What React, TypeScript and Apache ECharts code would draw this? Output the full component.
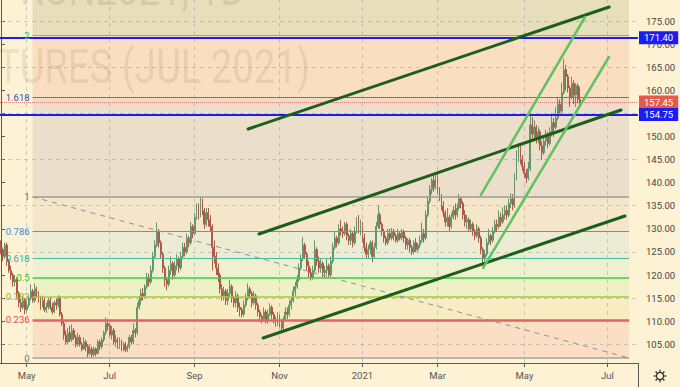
import React, { useEffect, useRef } from "react";
import * as echarts from "echarts";

// ---------- data ----------
const FIRST_DAY = "2020-04-14";
const LAST_DAY = "2021-07-23";
const HOLIDAYS = ["2020-05-25", "2020-07-03", "2020-09-07", "2020-11-26", "2020-12-25", "2021-01-01", "2021-01-18", "2021-02-15", "2021-04-02", "2021-05-31", "2021-07-05"];

// [open, close, low, high]
const CANDLES: number[][] = [
  [126.0, 125.5, 124.5, 127.5], [125.5, 124.0, 123.0, 126.0], [124.0, 126.5, 123.5, 127.0], [126.5, 123.0, 122.0, 127.0], [123.0, 121.0, 120.5, 123.5],
  [121.0, 120.0, 119.0, 122.0], [120.0, 118.5, 117.5, 120.5], [118.5, 119.0, 117.5, 120.0], [119.0, 116.0, 115.0, 119.5], [116.0, 114.0, 113.0, 116.5],
  [114.0, 113.0, 112.0, 115.0], [113.0, 114.5, 112.5, 115.5], [114.5, 112.5, 111.5, 115.0], [112.5, 113.5, 111.8, 114.5], [113.5, 115.0, 113.0, 115.5],
  [115.0, 116.5, 114.5, 118.0], [116.5, 114.5, 114.0, 117.0], [114.5, 117.0, 114.0, 118.2], [117.0, 116.0, 115.0, 117.5], [116.0, 115.0, 114.0, 116.5],
  [115.0, 113.5, 112.5, 115.5], [113.5, 114.5, 113.0, 115.5], [114.5, 112.5, 112.0, 115.0], [112.5, 113.0, 111.8, 114.0], [113.0, 114.5, 112.5, 115.0],
  [114.5, 113.0, 112.5, 115.2], [113.0, 112.0, 111.5, 114.0], [112.0, 114.0, 111.8, 114.5], [114.0, 113.5, 112.5, 114.8], [113.5, 115.0, 113.0, 115.6],
  [115.0, 111.5, 111.0, 115.5], [111.5, 109.5, 109.0, 112.0], [109.5, 107.0, 106.0, 110.0], [107.0, 105.5, 105.0, 108.0], [105.5, 107.5, 105.0, 108.5],
  [107.5, 106.0, 105.5, 109.0], [106.0, 108.0, 105.5, 109.3], [108.0, 106.5, 106.0, 108.5], [106.5, 105.0, 104.3, 107.0], [105.0, 106.5, 104.5, 107.5],
  [106.5, 105.0, 104.5, 107.0], [105.0, 104.0, 103.5, 105.5], [104.0, 105.5, 103.8, 106.5], [105.5, 104.5, 103.5, 106.0], [104.5, 103.0, 102.2, 105.0],
  [103.0, 104.0, 102.5, 105.0], [104.0, 102.8, 102.1, 104.5], [102.8, 104.0, 102.3, 104.5], [104.0, 103.0, 102.4, 104.3], [103.0, 105.5, 102.8, 106.0],
  [105.5, 104.5, 103.8, 106.0], [104.5, 106.0, 104.0, 106.5], [106.0, 107.5, 105.5, 108.0], [107.5, 109.5, 107.0, 110.8], [109.5, 109.0, 108.0, 110.5],
  [109.0, 107.0, 106.5, 109.5], [107.0, 108.0, 106.0, 109.0], [108.0, 105.5, 105.0, 108.5], [105.5, 106.0, 104.5, 107.0], [106.0, 104.5, 104.0, 106.5],
  [104.5, 105.5, 104.0, 106.5], [105.5, 104.0, 103.5, 106.0], [104.0, 105.0, 103.5, 105.5], [105.0, 103.8, 103.3, 105.5], [103.8, 104.5, 103.3, 105.0],
  [104.5, 106.5, 104.0, 107.0], [106.5, 105.5, 105.0, 107.0], [105.5, 108.0, 105.0, 109.5], [108.0, 107.5, 106.5, 108.5], [107.5, 113.0, 107.0, 114.0],
  [113.0, 114.5, 112.5, 115.5], [114.5, 116.0, 113.5, 117.0], [116.0, 115.5, 114.5, 117.2], [115.5, 117.5, 115.0, 118.0], [117.5, 119.5, 117.0, 120.5],
  [119.5, 118.5, 117.5, 120.3], [118.5, 121.0, 118.0, 122.0], [121.0, 124.0, 120.5, 125.0], [124.0, 126.5, 123.5, 127.5], [126.5, 129.5, 126.0, 131.4],
  [129.5, 127.0, 126.0, 130.0], [127.0, 124.5, 123.5, 127.5], [124.5, 121.5, 120.5, 125.0], [121.5, 119.0, 117.5, 122.0], [119.0, 118.0, 116.7, 119.5],
  [118.0, 121.0, 117.5, 122.0], [121.0, 122.5, 120.0, 124.0], [122.5, 120.0, 119.0, 123.0], [120.0, 122.0, 119.5, 123.0], [122.0, 123.5, 121.0, 124.5],
  [123.5, 121.5, 120.5, 124.0], [121.5, 124.0, 121.0, 125.0], [124.0, 126.0, 123.5, 127.0], [126.0, 125.0, 124.0, 127.0], [125.0, 128.0, 124.5, 129.0],
  [128.0, 127.0, 126.0, 128.5], [127.0, 130.5, 126.5, 131.5], [130.5, 129.0, 128.0, 131.0], [129.0, 132.5, 128.5, 133.5], [132.5, 134.5, 132.0, 135.5],
  [134.5, 133.0, 132.0, 135.5], [133.0, 135.5, 132.5, 136.9], [135.5, 134.0, 133.0, 136.5], [134.0, 131.0, 130.0, 134.5], [131.0, 133.5, 130.5, 134.5],
  [133.5, 132.0, 130.5, 134.5], [132.0, 130.5, 129.5, 133.0], [130.5, 126.0, 121.0, 131.0], [126.0, 124.0, 122.5, 127.5], [124.0, 121.5, 120.0, 125.0],
  [121.5, 120.0, 118.5, 122.5], [120.0, 117.0, 116.0, 120.5], [117.0, 115.5, 114.5, 118.0], [115.5, 116.5, 114.5, 117.5], [116.5, 114.5, 113.5, 117.0],
  [114.5, 116.0, 113.5, 117.0], [116.0, 117.5, 115.0, 119.0], [117.5, 115.0, 114.0, 118.0], [115.0, 114.0, 113.0, 115.5], [114.0, 115.5, 113.0, 116.5],
  [115.5, 113.0, 112.0, 116.0], [113.0, 112.5, 111.0, 114.0], [112.5, 111.5, 110.8, 113.0], [111.5, 113.5, 111.0, 114.5], [113.5, 115.0, 113.0, 116.0],
  [115.0, 117.0, 114.5, 118.2], [117.0, 116.0, 115.0, 117.5], [116.0, 114.0, 113.0, 116.5], [114.0, 115.5, 113.5, 116.5], [115.5, 113.5, 112.5, 116.0],
  [113.5, 112.0, 111.0, 114.0], [112.0, 111.0, 110.0, 112.5], [111.0, 110.5, 109.5, 111.5], [110.5, 112.0, 110.0, 113.0], [112.0, 110.0, 109.5, 112.5],
  [110.0, 111.5, 109.5, 112.5], [111.5, 113.0, 111.0, 113.9], [113.0, 111.5, 110.5, 113.5], [111.5, 110.5, 109.5, 112.0], [110.5, 109.5, 108.8, 111.0],
  [109.5, 111.0, 109.0, 112.0], [111.0, 109.5, 108.7, 111.5], [109.5, 108.5, 107.8, 110.0], [108.5, 110.5, 108.0, 111.0], [110.5, 112.0, 110.0, 113.0],
  [112.0, 111.5, 110.5, 113.0], [111.5, 113.5, 111.0, 114.5], [113.5, 114.5, 112.5, 115.2], [114.5, 116.5, 114.0, 117.5], [116.5, 117.5, 115.5, 118.5],
  [117.5, 119.0, 117.0, 120.0], [119.0, 121.5, 118.5, 122.5], [121.5, 123.5, 121.0, 124.5], [123.5, 126.5, 123.0, 128.2], [126.5, 124.5, 123.5, 127.0],
  [124.5, 122.0, 121.0, 125.0], [122.0, 120.5, 119.5, 123.0], [120.5, 119.5, 118.8, 121.5], [119.5, 121.0, 119.0, 122.0], [121.0, 125.5, 120.5, 127.5],
  [125.5, 123.0, 122.0, 126.0], [123.0, 121.5, 120.5, 124.0], [121.5, 122.5, 120.5, 123.5], [122.5, 120.5, 119.5, 123.0], [120.5, 121.0, 119.5, 122.0],
  [121.0, 122.0, 120.0, 123.5], [122.0, 120.0, 119.5, 122.5], [120.0, 123.0, 119.5, 124.0], [123.0, 126.0, 122.5, 127.0], [126.0, 128.0, 125.5, 129.5],
  [128.0, 127.0, 126.0, 128.5], [127.0, 130.0, 126.5, 131.0], [130.0, 129.5, 128.5, 131.9], [129.5, 129.0, 128.0, 130.5], [129.0, 131.0, 128.5, 131.5],
  [131.0, 128.5, 127.5, 131.5], [128.5, 127.5, 126.5, 129.0], [127.5, 129.0, 126.5, 130.0], [129.0, 127.0, 126.0, 129.5], [127.0, 129.5, 126.5, 130.5],
  [129.5, 131.5, 129.0, 132.5], [131.5, 130.0, 129.0, 133.0], [130.0, 131.0, 128.6, 132.0], [131.0, 128.0, 127.0, 131.5], [128.0, 126.0, 125.0, 129.0],
  [126.0, 124.5, 123.6, 127.0], [124.5, 125.5, 123.5, 126.5], [125.5, 127.0, 124.5, 127.5], [127.0, 124.0, 122.8, 127.5], [124.0, 126.0, 123.5, 127.0],
  [126.0, 130.5, 125.5, 131.5], [130.5, 133.0, 130.0, 135.1], [133.0, 131.0, 130.0, 133.5], [131.0, 129.5, 128.5, 131.5], [129.5, 128.0, 127.0, 130.0],
  [128.0, 127.0, 126.4, 128.5], [127.0, 129.0, 126.5, 130.0], [129.0, 128.0, 127.5, 130.0], [128.0, 129.5, 127.5, 130.2], [129.5, 128.5, 127.5, 130.0],
  [128.5, 127.5, 127.0, 129.0], [127.5, 129.0, 127.0, 130.0], [129.0, 128.0, 127.5, 129.5], [128.0, 129.5, 127.5, 130.0], [129.5, 128.0, 127.0, 129.8],
  [128.0, 126.5, 125.5, 128.5], [126.5, 127.5, 125.5, 128.0], [127.5, 126.0, 125.0, 128.0], [126.0, 125.0, 124.3, 126.5], [125.0, 127.0, 124.5, 127.5],
  [127.0, 125.5, 125.0, 128.0], [125.5, 126.5, 125.0, 127.0], [126.5, 127.5, 125.8, 128.5], [127.5, 129.0, 127.0, 131.4], [129.0, 128.0, 127.0, 130.0],
  [128.0, 133.0, 127.5, 134.0], [133.0, 136.0, 132.5, 137.0], [136.0, 138.5, 135.5, 139.5], [138.5, 140.5, 137.5, 141.0], [140.5, 139.0, 138.0, 141.5],
  [139.0, 141.5, 138.5, 142.3], [141.5, 138.5, 137.5, 142.0], [138.5, 137.0, 136.0, 139.0], [137.0, 135.0, 134.0, 137.5], [135.0, 133.5, 132.5, 136.0],
  [133.5, 131.5, 130.5, 134.0], [131.5, 132.5, 130.5, 134.5], [132.5, 130.5, 129.3, 133.0], [130.5, 132.5, 130.0, 133.5], [132.5, 134.0, 132.0, 135.0],
  [134.0, 133.0, 132.0, 135.5], [133.0, 134.5, 132.5, 135.5], [134.5, 136.5, 134.0, 137.6], [136.5, 135.5, 134.5, 137.0], [135.5, 133.0, 132.0, 136.0],
  [133.0, 131.5, 130.5, 134.0], [131.5, 132.0, 130.0, 133.0], [132.0, 130.0, 129.5, 132.5], [130.0, 131.0, 129.5, 132.0], [131.0, 129.5, 128.5, 131.5],
  [129.5, 128.5, 127.5, 130.0], [128.5, 130.0, 128.0, 131.0], [130.0, 128.0, 127.0, 130.5], [128.0, 125.5, 124.5, 128.5], [125.5, 123.5, 122.6, 126.0],
  [123.5, 124.5, 123.0, 125.5], [124.5, 127.0, 124.0, 128.0], [127.0, 128.5, 126.5, 130.0], [128.5, 127.5, 126.5, 129.0], [127.5, 129.5, 127.0, 130.4],
  [129.5, 131.0, 129.0, 132.0], [131.0, 130.5, 129.5, 132.0], [130.5, 132.5, 130.0, 134.0], [132.5, 131.5, 130.5, 133.5], [131.5, 133.0, 131.0, 134.7],
  [133.0, 134.0, 132.0, 135.0], [134.0, 133.0, 132.0, 135.0], [133.0, 135.5, 132.5, 136.5], [135.5, 136.5, 134.5, 137.7], [136.5, 135.0, 134.0, 137.5],
  [135.0, 141.0, 134.5, 142.0], [141.0, 145.5, 140.5, 147.0], [145.5, 147.0, 144.5, 148.6], [147.0, 145.0, 144.0, 148.0], [145.0, 143.5, 142.5, 146.0],
  [143.5, 142.0, 141.0, 144.5], [142.0, 141.0, 139.9, 143.0], [141.0, 143.0, 140.5, 144.5], [143.0, 152.5, 142.5, 155.0], [152.5, 150.5, 149.5, 154.2],
  [150.5, 152.0, 149.5, 153.5], [152.0, 149.5, 148.5, 152.5], [149.5, 151.0, 148.5, 152.0], [151.0, 148.0, 147.0, 151.5], [148.0, 146.5, 144.9, 149.0],
  [146.5, 149.0, 146.0, 150.0], [149.0, 150.5, 148.0, 151.4], [150.5, 148.5, 147.5, 151.0], [148.5, 151.0, 148.0, 152.0], [151.0, 153.0, 150.0, 155.0],
  [153.0, 152.0, 149.9, 154.0], [152.0, 154.0, 151.5, 156.4], [154.0, 157.0, 153.5, 158.5], [157.0, 155.5, 155.0, 158.0], [155.5, 159.5, 155.0, 161.6],
  [159.5, 164.5, 159.0, 166.8], [164.5, 163.0, 160.0, 165.5], [163.0, 160.5, 159.5, 163.5], [160.5, 158.5, 156.4, 161.0], [158.5, 161.5, 158.0, 162.9],
  [161.5, 159.0, 157.0, 162.2], [159.0, 161.0, 156.4, 161.5], [161.0, 158.0, 157.2, 161.5], [158.0, 157.45, 156.8, 160.7],
];

const TICK_MONTHS = ["2020-05", "2020-07", "2020-09", "2020-11", "2021-01", "2021-03", "2021-05", "2021-07"];
const TICK_LABELS = ["May", "Jul", "Sep", "Nov", "2021", "Mar", "May", "Jul"];

const PRICE_TICKS = [105, 110, 115, 120, 125, 130, 135, 140, 145, 150, 155, 160, 165, 170, 175];
const GRID_PRICES = [105, 115, 125, 135, 145, 155, 165, 175];
const Y_MIN = 100.95;
const Y_MAX = 179.55;

// Fibonacci retracement (anchored at bar 16 and bar 318)
const FIB_LABELS = ["0", "0.236", "0.382", "0.5", "0.618", "0.786", "1", "1.618", "2"];
const FIB_LEVELS = [102.03, 110.27, 115.36, 119.48, 123.6, 129.46, 136.93, 158.5, 171.83];
const FIB_START = 16;
const FIB_END = 318;

// horizontal levels
const H_LEVELS = [171.4, 154.75];
const LAST_PRICE = 157.45;

// trend lines [[bar, price], [bar, price]]
const DARK_TRENDS = [
  [[125.1, 151.62], [307.9, 178.03]],
  [[130.6, 128.89], [313.9, 155.73]],
  [[132.7, 106.37], [315.9, 132.78]],
];
const LIGHT_TRENDS = [
  [[243.0, 137.33], [295.7, 175.87]],
  [[244.1, 121.53], [307.8, 167.21]],
];

// ---------- styles ----------
const FIB_LINE_COLORS = ["#a3a3a3", "#e2665c", "#a9c93c", "#3ccf3c", "#4cbd9c", "#4f9ad8", "#a09a94", "#6b6bd0", "#5cc497"];
const FIB_TEXT_COLORS = ["#777777", "#e0504a", "#94b820", "#2ec42e", "#2fae8c", "#3d8fd1", "#666666", "#4a4ab8", "#3cb58c"];
const FIB_LINE_WIDTHS = [1.5, 2.5, 1.5, 1.5, 1.2, 1.2, 1.5, 1.2, 1.2];
const ZONE_COLORS = ["#fbdfc4", "#f8ecc2", "#eef0c6", "#eef0d0", "#ecebd3", "#f5e6c9", "#ebdfcc", "#fadec0", "#e7dfbb"];

function tradingDays(): string[] {
  const out: string[] = [];
  const d = new Date(FIRST_DAY + "T00:00:00Z");
  const end = new Date(LAST_DAY + "T00:00:00Z");
  while (d.getTime() <= end.getTime()) {
    const wd = d.getUTCDay();
    const s = d.toISOString().slice(0, 10);
    if (wd !== 0 && wd !== 6 && HOLIDAYS.indexOf(s) < 0) out.push(s);
    d.setUTCDate(d.getUTCDate() + 1);
  }
  return out;
}

export default function App() {
  const ref = useRef<HTMLDivElement>(null);

  useEffect(() => {
    if (!ref.current) return;
    const chart = echarts.init(ref.current, undefined, { renderer: "svg" });
    const dates = tradingDays();
    const N = dates.length;

    const tickMap = new Map<number, string>();
    TICK_MONTHS.forEach((m, k) => {
      const idx = dates.findIndex((d) => d.startsWith(m));
      if (idx >= 0) tickMap.set(idx, TICK_LABELS[k]);
    });
    const tickIdx = Array.from(tickMap.keys());

    const zoneBounds = [...FIB_LEVELS, Y_MAX];
    const zones = ZONE_COLORS.map((c, i) => [
      { xAxis: FIB_START, yAxis: zoneBounds[i], itemStyle: { color: c, opacity: 1 } },
      { xAxis: FIB_END, yAxis: zoneBounds[i + 1] },
    ]);

    const fibLines = FIB_LEVELS.map((v, i) => [
      {
        coord: [FIB_START, v],
        lineStyle: { color: FIB_LINE_COLORS[i], width: FIB_LINE_WIDTHS[i], type: "solid" },
        label: {
          show: true,
          position: "start",
          formatter: FIB_LABELS[i],
          color: FIB_TEXT_COLORS[i],
          fontSize: 9.5,
          distance: 3,
          fontFamily: "Roboto, sans-serif",
        },
      },
      { coord: [FIB_END, v] },
    ]);

    const levelLine = (v: number, color: string, bg: string, type: string, width: number) => [
      {
        coord: [-0.5, v],
        lineStyle: { color, width, type },
        label: {
          show: true,
          position: "end",
          formatter: v.toFixed(2),
          color: "#ffffff",
          backgroundColor: bg,
          padding: [2, 5, 1, 5],
          fontSize: 9.5,
          distance: 1,
          fontFamily: "Roboto, sans-serif",
        },
      },
      { coord: [N - 0.5, v] },
    ];

    const trendSeries = (pts: number[][], color: string, width: number) => ({
      type: "line",
      xAxisIndex: 1,
      data: pts,
      symbol: "none",
      silent: true,
      z: 7,
      lineStyle: { color, width, cap: "round" },
    });

    const option: any = {
      animation: false,
      backgroundColor: "#fdf2d4",
      textStyle: { fontFamily: "Roboto, sans-serif" },
      grid: { left: 0, right: 42, top: 0, bottom: 24, containLabel: false, outerBoundsMode: "none" },
      xAxis: [
        {
          type: "category",
          data: dates,
          boundaryGap: true,
          axisLine: { show: true, lineStyle: { color: "#5a5a5a", width: 1 } },
          axisTick: {
            show: true,
            alignWithLabel: true,
            interval: (i: number) => tickMap.has(i),
            length: 4,
            lineStyle: { color: "#5a5a5a" },
          },
          axisLabel: {
            show: true,
            interval: (i: number) => tickMap.has(i),
            formatter: (_v: string, i: number) => tickMap.get(i) || "",
            color: "#555555",
            fontSize: 9.5,
            margin: 7,
            hideOverlap: false,
          },
          splitLine: { show: false },
        },
        { type: "value", min: -0.5, max: N - 0.5, show: false },
      ],
      yAxis: {
        type: "value",
        position: "right",
        min: Y_MIN,
        max: Y_MAX,
        axisLine: { show: true, lineStyle: { color: "#5a5a5a", width: 1 } },
        axisTick: { show: true, length: 4, customValues: PRICE_TICKS, lineStyle: { color: "#5a5a5a" } },
        axisLabel: {
          show: true,
          customValues: PRICE_TICKS,
          formatter: (v: number) => v.toFixed(2),
          color: "#444444",
          fontSize: 9.5,
          margin: 8,
        },
        splitLine: { show: false },
      },
      graphic: [
        {
          type: "text",
          x: 245,
          y: -12,
          z: 3,
          silent: true,
          scaleX: 0.78,
          style: {
            text: "KCN2021, 1D",
            fontSize: 49,
            fontFamily: "Roboto, sans-serif",
            fill: "rgba(110,100,60,0.16)",
            align: "right",
            verticalAlign: "middle",
          },
        },
        {
          type: "text",
          x: 310,
          y: 66,
          z: 3,
          silent: true,
          scaleX: 0.78,
          style: {
            text: "TURES (JUL 2021)",
            fontSize: 49,
            fontFamily: "Roboto, sans-serif",
            fill: "rgba(110,100,60,0.12)",
            align: "right",
            verticalAlign: "middle",
          },
        },
        {
          type: "line",
          silent: true,
          shape: { x1: 638.5, y1: 363, x2: 638.5, y2: 387 },
          style: { stroke: "#5a5a5a", lineWidth: 1 },
        },
        {
          type: "group",
          x: 660,
          y: 376,
          silent: true,
          children: [
            { type: "circle", shape: { cx: 0, cy: 0, r: 3.6 }, style: { fill: "none", stroke: "#333", lineWidth: 1.3 } },
            ...[0, 45, 90, 135, 180, 225, 270, 315].map((a) => {
              const r = (a * Math.PI) / 180;
              return {
                type: "line",
                shape: { x1: Math.cos(r) * 4.2, y1: Math.sin(r) * 4.2, x2: Math.cos(r) * 6.2, y2: Math.sin(r) * 6.2 },
                style: { stroke: "#333", lineWidth: 1.4 },
              };
            }),
          ],
        },
      ],
      series: [
        {
          type: "line",
          xAxisIndex: 1,
          data: [],
          z: 1,
          silent: true,
          markArea: { silent: true, data: zones },
        },
        {
          type: "line",
          xAxisIndex: 1,
          data: [],
          z: 2,
          silent: true,
          markLine: {
            silent: true,
            symbol: ["none", "none"],
            label: { show: false },
            lineStyle: { color: "rgba(150,150,150,0.45)", type: [4, 4], width: 1 },
            data: [
              ...GRID_PRICES.map((p) => ({ yAxis: p })),
              ...tickIdx.map((i) => ({ xAxis: i })),
            ],
          },
        },
        {
          type: "candlestick",
          xAxisIndex: 0,
          data: CANDLES,
          z: 4,
          barWidth: 1.4,
          silent: true,
          itemStyle: {
            color: "#64966a",
            color0: "#ad5a49",
            borderColor: "#64966a",
            borderColor0: "#ad5a49",
            borderWidth: 1,
          },
        },
        {
          type: "line",
          xAxisIndex: 1,
          data: [],
          z: 6,
          silent: true,
          markLine: { silent: true, symbol: ["none", "none"], data: fibLines },
        },
        {
          type: "line",
          xAxisIndex: 1,
          data: [
            [FIB_START, FIB_LEVELS[6]],
            [FIB_END, FIB_LEVELS[0]],
          ],
          symbol: "none",
          silent: true,
          z: 6,
          lineStyle: { color: "#8f8f8f", width: 1, type: [5, 5] },
        },
        ...DARK_TRENDS.map((t) => trendSeries(t, "#1d5e1d", 3)),
        ...LIGHT_TRENDS.map((t) => trendSeries(t, "#62c262", 2.5)),
        {
          type: "line",
          xAxisIndex: 1,
          data: [],
          z: 8,
          silent: true,
          markLine: {
            silent: true,
            symbol: ["none", "none"],
            data: [
              levelLine(LAST_PRICE, "#e07a6c", "#e25b4b", "dotted", 1),
              ...H_LEVELS.map((v) => levelLine(v, "#1c1cf5", "#1c1cf5", "solid", 2)),
            ],
          },
        },
      ],
    };

    chart.setOption(option);
    return () => chart.dispose();
  }, []);

  return (
    <div
      ref={ref}
      style={{ position: "fixed", left: 0, top: 0, width: 680, height: 387 }}
    />
  );
}
